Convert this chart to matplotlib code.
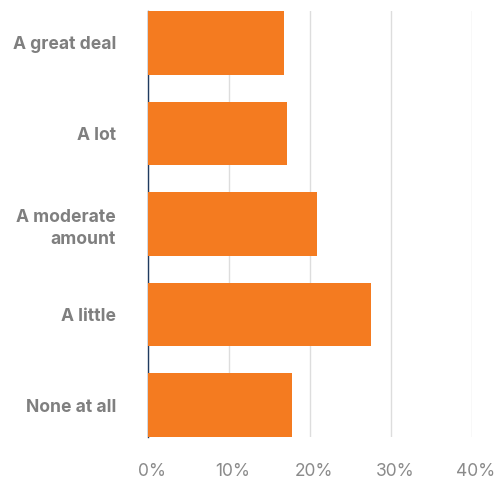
import matplotlib
matplotlib.use("Agg")
from matplotlib import pyplot as plt
from matplotlib.ticker import FuncFormatter
from matplotlib.transforms import ScaledTranslation

categories = ["A great deal", "A lot", "A moderate\namount", "A little", "None at all"]
shares = [16.8, 17.1, 20.9, 27.5, 17.8]
xticks = [0, 10, 20, 30, 40]

plt.rcParams['font.family'] = ['Inter', 'DejaVu Sans']

fig = plt.figure(figsize=(5.02, 4.83), dpi=100)
ax = fig.add_axes([148/502, 1 - 437/483, 324/502, 426/483])

bar_h = 0.707
ax.barh(range(len(categories)), shares, height=bar_h, color="#F47B20", zorder=3)

ax.set_xlim(0, 40)
ax.set_ylim(len(categories) - 1 + bar_h/2, -bar_h/2)
ax.set_xticks(xticks)
ax.xaxis.set_major_formatter(FuncFormatter(lambda v, p: f"{v:.0f}%"))
ax.set_yticks(range(len(categories)))
ax.set_yticklabels(categories, fontsize=12.6, fontweight="bold", color="#7f7f7f",
                   linespacing=1.4)
ax.tick_params(axis="y", length=0, pad=23)
ax.tick_params(axis="x", length=0, pad=19, labelsize=12.5, labelcolor="#8a8a8a")

# tick labels sit a little right of their gridlines
shift = ScaledTranslation(4/100, 0, fig.dpi_scale_trans)
for t in ax.get_xticklabels():
    t.set_transform(t.get_transform() + shift)

ax.grid(axis="x", color="#dddddd", linewidth=1, zorder=0)
for s in ["top", "right", "bottom"]:
    ax.spines[s].set_visible(False)
ax.spines["left"].set_color("#1f3a5f")
ax.spines["left"].set_linewidth(1)
ax.spines["left"].set_zorder(2)

fig.savefig("out.png", dpi=100)
